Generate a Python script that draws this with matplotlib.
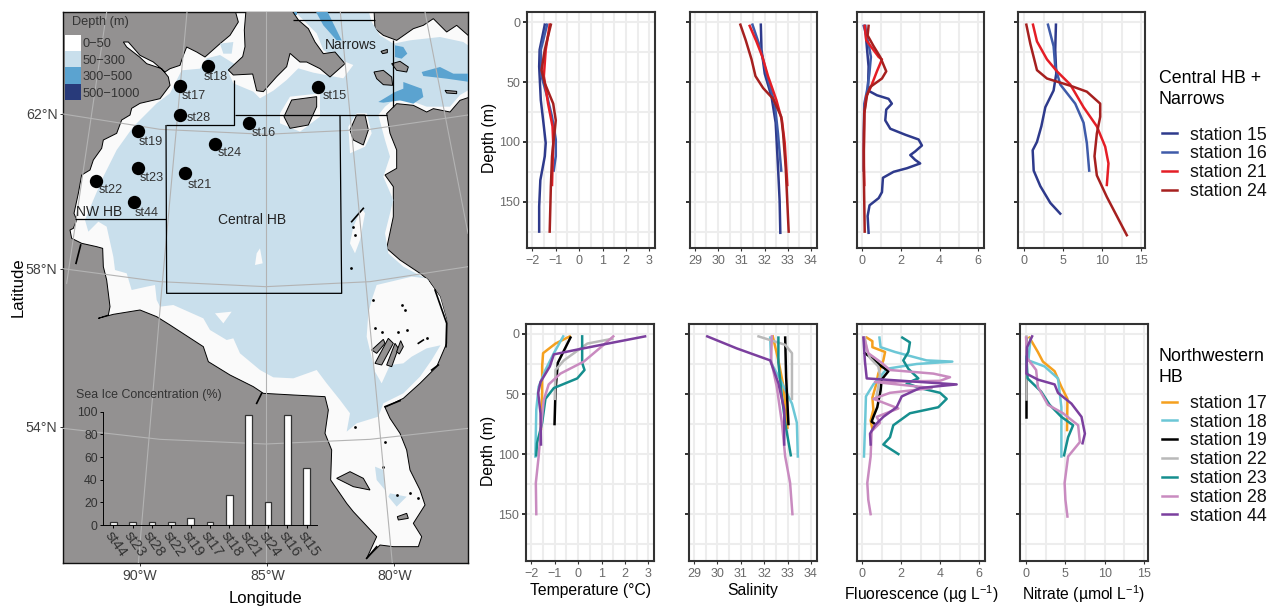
import matplotlib
matplotlib.use("Agg")
import matplotlib.pyplot as plt
from matplotlib.patches import Polygon, Rectangle
from matplotlib.lines import Line2D

plt.rcParams['font.family'] = ['Liberation Sans', 'DejaVu Sans']
plt.rcParams['mathtext.fontset'] = 'custom'
plt.rcParams['mathtext.rm'] = 'Liberation Sans'
plt.rcParams['mathtext.default'] = 'regular'

W, H = 1274, 606

# ---------- station profile data (depth in m, value) ----------
tD15 = [2, 23, 37, 65, 87, 101, 112, 132, 154, 175]
tV15 = [-1.47, -1.69, -1.71, -1.64, -1.51, -1.43, -1.47, -1.66, -1.71, -1.71]
tD16 = [2, 23, 45, 62, 79, 98, 112, 124]
tV16 = [-1.37, -1.64, -1.61, -1.37, -1.16, -1.0, -1.0, -1.09]
tD21 = [2, 23, 45, 68, 87, 101, 121, 136]
tV21 = [-1.26, -1.43, -1.51, -1.33, -1.14, -1.11, -1.14, -1.16]
tD24 = [2, 23, 40, 51, 68, 82, 93, 112, 137, 175]
tV24 = [-1.21, -1.47, -1.61, -1.47, -1.11, -1.0, -1.06, -1.16, -1.21, -1.26]

sD15 = [2, 23, 43, 62, 84, 121, 149, 176]
sV15 = [31.84, 31.87, 32.01, 32.30, 32.48, 32.58, 32.65, 32.68]
sD16 = [2, 18, 31, 45, 68, 93, 124]
sV16 = [31.48, 31.76, 31.94, 32.11, 32.44, 32.58, 32.72]
sD21 = [3, 16, 29, 45, 65, 82, 101, 136]
sV21 = [31.36, 31.65, 31.91, 32.15, 32.51, 32.75, 32.87, 32.98]
sD24 = [2, 15, 31, 45, 55, 64, 79, 93, 121, 175]
sV24 = [30.96, 31.19, 31.44, 31.61, 31.94, 32.37, 32.72, 32.80, 32.91, 33.04]

fD15 = [3, 15, 37, 57, 61, 64, 68, 73, 82, 89, 94, 98, 103, 108, 111, 115, 118, 122, 125, 130, 142, 147, 153, 162, 176]
fV15 = [.17, .22, .34, .31, .77, 1.37, 1.54, 1.25, 1.20, 1.46, 2.23, 2.92, 3.09, 2.74, 2.49, 2.74, 3.0, 2.32, 1.63, 1.08, 1.03, .86, .39, .29, .34]
fD16 = [3, 18, 29, 43, 57, 68, 93, 124]
fV16 = [.09, .34, .46, .38, .26, .12, .09, .09]
fD21 = [3, 15, 29, 31, 41, 54, 62, 76, 107, 136]
fV21 = [.14, .22, .86, 1.03, .77, .46, .22, .12, .09, .12]
fD24 = [3, 11, 20, 29, 41, 47, 54, 61, 76, 121, 175]
fV24 = [.34, .29, .60, .94, 1.25, 1.03, .43, .26, .12, .09, .14]

nD15 = [2, 23, 43, 57, 71, 87, 100, 107, 124, 137, 151, 160]
nV15 = [4.09, 4.0, 4.13, 3.79, 2.73, 2.22, 1.66, 1.11, 1.24, 2.09, 3.37, 4.64]
nD16 = [2, 20, 37, 52, 68, 84, 101, 124]
nV16 = [3.07, 3.79, 4.0, 4.64, 6.56, 7.63, 8.05, 8.35]
nD21 = [2, 16, 31, 41, 52, 71, 87, 104, 118, 136]
nV21 = [1.15, 1.66, 2.94, 4.22, 5.92, 7.63, 9.33, 10.4, 10.82, 10.61]
nD24 = [2, 18, 40, 47, 53, 58, 68, 79, 93, 112, 128, 146, 178]
nV24 = [.3, .81, 1.66, 2.94, 5.92, 8.05, 9.76, 9.76, 9.33, 9.03, 9.33, 10.61, 13.17]

tD17 = [2, 8, 16, 27, 49, 74, 79]
tV17 = [-.36, -.97, -1.5, -1.54, -1.54, -1.59, -1.59]
tD18 = [2, 16, 30, 44, 63, 102]
tV18 = [-.64, -1.04, -1.4, -1.69, -1.79, -1.83]
tD19 = [3, 24, 47, 75]
tV19 = [-.33, -.87, -.97, -1.01]
tD22 = [4, 8, 22, 30, 54]
tV22 = [1.46, .39, -.61, -.97, -1.0]
tD23 = [2, 24, 30, 37, 45, 54, 74, 91, 101]
tV23 = [.17, .17, .27, -.04, -1.04, -1.4, -1.54, -1.76, -1.79]
tD28 = [2, 10, 23, 33, 42, 55, 74, 102, 124, 150]
tV28 = [1.5, 1.03, .24, -.76, -1.26, -1.47, -1.57, -1.69, -1.81, -1.79]
tD44 = [2, 7, 13, 17, 27, 40, 49, 66, 92]
tV44 = [2.86, 1.53, -.04, -1.04, -1.21, -1.61, -1.71, -1.61, -1.59]

sD17 = [2, 22, 44, 78]
sV17 = [32.37, 32.61, 32.83, 33.0]
sD18 = [3, 24, 38, 58, 74, 102]
sV18 = [32.26, 32.3, 32.69, 33.19, 33.4, 33.44]
sD19 = [3, 36, 75]
sV19 = [32.9, 32.94, 33.04]
sD22 = [2, 9, 16, 54]
sV22 = [31.76, 32.9, 33.19, 33.19]
sD23 = [3, 24, 52, 74, 101]
sV23 = [32.61, 32.61, 32.76, 32.9, 33.14]
sD28 = [2, 22, 44, 74, 102, 124, 150]
sV28 = [32.33, 32.3, 32.54, 32.76, 32.9, 33.11, 33.21]
sD44 = [2, 12, 22, 41, 63, 92]
sV44 = [29.57, 30.83, 32.26, 32.61, 32.86, 32.86]

fD17 = [3, 6, 11, 15, 22, 33, 42, 53, 63, 72, 79]
fV17 = [.24, .53, .53, 1.18, 1.09, .83, .72, .53, .58, .44, .53]
fD18 = [3, 11, 15, 22, 23, 25, 29, 36, 42, 52, 69, 102]
fV18 = [.89, .95, 1.69, 3.3, 4.62, 2.79, 1.26, .92, .58, .2, .17, .1]
fD19 = [16, 20, 26, 31, 38, 47, 61, 69, 73, 76]
fV19 = [.15, .49, .92, 1.35, 1.0, .95, .78, .58, .49, .75]
fD22 = [3, 13, 20, 27, 34, 44, 54]
fV22 = [.15, .24, .41, .83, .92, .83, .72]
fD23 = [3, 7, 15, 22, 29, 37, 41, 45, 49, 54, 61, 66, 76, 86, 92, 100]
fV23 = [2.06, 2.45, 2.37, 2.11, 2.37, 2.88, 2.28, 2.96, 3.99, 4.33, 3.9, 2.45, 1.6, 1.43, 1.09, 1.86]
fD28 = [3, 16, 24, 30, 33, 36, 39, 40, 45, 49, 54, 62, 69, 74, 81, 102, 124, 138, 150]
fV28 = [.1, .32, 1.0, 1.43, 3.65, 4.5, 3.99, .66, 3.56, 1.43, .58, 1.86, .75, .92, .49, .44, .27, .32, .44]
fD44 = [3, 23, 37, 42, 45, 52, 61, 69, 76, 83, 92]
fV44 = [.07, .15, .24, 4.84, 2.96, 2.03, 1.77, 1.09, .66, .41, .44]

nD17 = [3, 15, 23, 31, 44, 54, 80]
nV17 = [.43, 1.5, 2.14, 3.63, 4.49, 5.26, 5.21]
nD18 = [4, 22, 27, 37, 61, 86, 102]
nV18 = [.56, .3, 2.35, 4.06, 4.49, 4.49, 4.49]
nD19 = [3, 69]
nV19 = [.04, .04]
nD22 = [2, 54]
nV22 = [.04, .04]
nD23 = [19, 37, 48, 59, 69, 76, 86, 101]
nV23 = [.04, .2, 1.92, 3.0, 4.49, 5.98, 5.34, 4.83]
nD28 = [3, 20, 30, 44, 59, 66, 76, 90, 102, 124, 138, 152]
nV28 = [0, .13, 1.28, 1.5, 2.78, 4.7, 6.62, 6.84, 5.34, 4.9, 5.0, 5.26]
nD44 = [2, 11, 33, 38, 42, 49, 58, 69, 83, 91]
nV44 = [.77, .13, .04, 1.5, 3.63, 4.06, 5.77, 7.05, 7.48, 7.18]

top_stations = ['15', '16', '21', '24']
bottom_stations = ['17', '18', '19', '22', '23', '28', '44']
colors = {'15': '#2E3A8C', '16': '#3F5BA9', '21': '#E41E26', '24': '#A6201F',
          '17': '#F5A01E', '18': '#6CC7D6', '19': '#000000', '22': '#B9B9B9',
          '23': '#158E8E', '28': '#C98BC0', '44': '#7B3F9E'}

# ---------- sea ice bars ----------
ice_stations = ['st44', 'st23', 'st28', 'st22', 'st19', 'st17', 'st18', 'st21', 'st24', 'st16', 'st15']
ice_values = [3, 3, 3, 3, 6, 3, 26.5, 97.5, 20, 97.5, 50]

# ---------- station map positions (map units) ----------
map_st_names = ['st18', 'st17', 'st28', 'st19', 'st16', 'st24', 'st23', 'st21', 'st22', 'st44', 'st15']
map_st_x = [444, 360, 359, 233, 567, 464, 235, 375, 107, 221, 774]
map_st_y = [197, 257, 344, 394, 369, 432, 503, 518, 543, 607, 261]
map_lab_x = [431, 365, 380, 235, 575, 473, 240, 383, 116, 224, 787]
map_lab_y = [231, 288, 353, 425, 398, 460, 533, 555, 569, 640, 288]


def low(pts):
    """points read on the lower half of the map"""
    return [(x, y + 870) for x, y in pts]


water = [(525, 30), (942, 30), (945, 86), (970, 106), (1010, 121), (1060, 86), (1090, 76), (1120, 56), (1160, 96),
         (1190, 76), (1230, 111), (1230, 291), (1200, 301), (1170, 336), (1120, 326), (1100, 336), (1060, 316),
         (1010, 311), (980, 341), (990, 400), (1010, 450), (1010, 505), (975, 525), (1000, 560), (1000, 650),
         (980, 745), (1020, 780), (1080, 820), (1105, 840), (1140, 890), (1160, 960), (1160, 1030), (1130, 1100),
         (1080, 1150), (1030, 1195), (975, 1222)] + low([
    (990, 385), (1020, 430), (1040, 480), (1050, 540), (1080, 600), (1095, 645), (1060, 700), (1085, 740), (1075, 770),
    (1000, 770), (960, 765), (920, 805), (950, 740), (880, 665), (860, 640), (812, 570), (815, 480), (795, 430),
    (805, 360), (795, 320), (700, 315), (610, 310), (580, 290), (510, 255), (445, 215), (430, 170), (330, 105),
    (290, 80), (240, 60), (160, 73), (115, 85), (145, 75)]) + [
    (150, 920), (145, 880), (140, 840), (130, 800), (128, 745), (110, 740), (65, 730), (35, 715), (30, 690), (40, 685),
    (50, 660), (42, 640), (55, 580), (65, 525), (90, 510), (100, 480), (125, 445), (130, 420), (170, 400), (185, 360),
    (210, 345), (215, 325), (240, 310), (300, 296), (330, 256), (325, 231), (305, 206), (260, 191), (240, 172), (200, 141),
    (190, 126), (205, 126), (240, 166), (280, 186), (315, 216), (330, 206), (360, 196), (370, 166), (380, 141),
    (410, 156), (435, 171), (480, 131), (510, 106), (535, 66)]

deep50 = [(365, 211), (420, 206), (440, 175), (480, 165), (530, 196), (505, 216), (520, 250), (580, 275), (600, 295),
          (640, 272), (680, 240), (715, 205), (760, 218), (850, 235), (880, 195), (830, 175), (790, 150), (770, 100),
          (700, 30), (925, 30), (935, 66), (960, 106), (1000, 131), (1050, 121), (1140, 111), (1210, 126), (1230, 140),
          (1230, 268), (1200, 285), (1170, 320), (1100, 320), (1060, 305), (1000, 300), (975, 320), (955, 345),
          (975, 420), (990, 470), (970, 530), (1000, 600), (975, 700), (985, 760), (1030, 800), (1105, 840),
          (1125, 900), (1145, 980), (1145, 1030), (1115, 1080), (1080, 1130), (1030, 1180), (970, 1210)] + low([
    (955, 380), (890, 400), (860, 425), (870, 370), (840, 330), (800, 280), (770, 240), (700, 265), (640, 262),
    (600, 240), (540, 190), (520, 145), (500, 150), (450, 120), (430, 85), (340, 45), (300, 50), (290, 30)]) + [
    (285, 855), (260, 860), (215, 870), (200, 820), (165, 810), (160, 770), (140, 680), (115, 665), (85, 695), (75, 660),
    (100, 600), (130, 530), (170, 450), (220, 380), (290, 310), (330, 280)]
deep50_extra = [[(480, 131), (520, 126), (515, 161), (490, 161)],
                low([(945, 530), (970, 540), (975, 600), (950, 570)]),
                low([(990, 610), (1040, 620), (1010, 650), (985, 620)])]
shallow_holes = [[(660, 340), (690, 290), (780, 280), (780, 350), (720, 395), (660, 370)],
                 [(865, 380), (890, 340), (920, 340), (935, 400), (915, 440), (870, 460)],
                 [(880, 680), (905, 625), (915, 640), (900, 720), (885, 760), (870, 730)],
                 [(590, 760), (600, 745), (608, 790), (585, 795)],
                 low([(465, 70), (515, 65), (490, 100)]),
                 [(935, 900), (950, 855), (1055, 830), (1100, 835), (1140, 890), (1160, 960), (1145, 1035), (1100, 1045),
                  (1055, 1070), (1030, 1090), (990, 1095), (965, 1150), (945, 1115), (920, 1010), (925, 940)]]
deep300 = [[(765, 30), (800, 30), (845, 121), (830, 121), (790, 76)],
           [(695, 36), (710, 36), (710, 46), (700, 46)],
           [(1005, 136), (1030, 141), (1042, 161), (1025, 176), (1005, 171)],
           [(1085, 216), (1140, 201), (1180, 221), (1230, 221), (1230, 246), (1160, 236), (1090, 228)],
           [(955, 306), (1005, 276), (1030, 266), (1030, 246), (1085, 266), (1090, 291), (1060, 311), (1020, 301),
            (970, 308)]]
islands = [[(558, 30), (553, 90), (555, 140), (548, 170), (505, 210), (520, 225), (578, 222), (590, 272), (610, 275),
            (650, 230), (680, 200), (690, 160), (720, 186), (740, 186), (780, 206), (810, 231), (855, 191), (825, 156),
            (790, 161), (765, 126), (745, 86), (715, 60), (695, 30)],
           [(695, 300), (770, 290), (770, 320), (745, 375), (690, 385), (672, 350)],
           [(890, 345), (915, 345), (925, 390), (910, 435), (880, 420), (870, 390)],
           [(942, 216), (970, 211), (995, 231), (998, 256), (970, 254), (950, 236)],
           [(995, 191), (1020, 184), (1045, 201), (1040, 216), (1010, 211)],
           [(1155, 271), (1190, 274), (1190, 281), (1160, 279)],
           [(963, 154), (982, 148), (982, 158), (968, 161)],
           [(935, 1050), (970, 1018), (975, 1030), (950, 1060)],
           [(945, 1090), (985, 1015), (1000, 1030), (965, 1095)],
           [(980, 1095), (1005, 1030), (1015, 1045), (995, 1100)],
           [(1010, 1055), (1022, 1022), (1030, 1040), (1018, 1062)]] + [low(p) for p in [
    [(830, 565), (870, 545), (910, 565), (930, 600), (880, 590)],
    [(1012, 680), (1040, 670), (1045, 685), (1015, 690)]]]
coast_marks = [[(875, 665), (910, 625)],
               [(62, 735), (48, 790)],
               [(1125, 870), (1160, 970), (1158, 1040)],
               [(1115, 1110), (1135, 1095)],
               [(975, 1220), (1020, 1202)],
               low([(590, 340), (605, 310)]),
               low([(920, 805), (950, 770)]),
               [(1075, 1030), (1090, 1020)]]
dot_x = [880, 885, 873, 940, 1025, 1035, 945, 965, 1015, 1040, 1100, 885, 975, 1010, 1050, 1075, 970]
dot_y = [680, 705, 805, 900, 915, 930, 985, 995, 995, 990, 1015, 1280, 1325, 1485, 1480, 1495, 1400]
region_lines = [[(318, 375), (522, 375), (522, 240)],
                [(318, 375), (320, 880), (845, 880), (840, 345)],
                [(525, 345), (980, 345)],
                [(45, 657), (318, 657)],
                [(700, 60), (945, 60)],
                [(1000, 120), (1000, 320)]]
meridians = [[(140, 36), (20, 850)], [(381, 36), (305, 870), (235, 1690)], [(617, 36), (617, 1690)],
             [(841, 36), (997, 1690)], [(1095, 36), (1224, 700)]]
graticule_x = [9, 300, 617, 930, 1224]
parallels_y = [[342, 388, 403, 388, 345], [806, 845, 860, 845, 800], [1285, 1318, 1332, 1318, 1285]]
lon_tick_pos = [240, 622, 1003]
lon_tick_lab = ['90°W', '85°W', '80°W']
lat_tick_pos = [342, 806, 1281]
lat_tick_lab = ['62°N', '58°N', '54°N']

depth_labels = ['0\u221250', '50\u2212300', '300\u2212500', '500\u22121000']
depth_colors = ['#FFFFFF', '#C9DFEC', '#5BA3D0', '#283A7A']

LAND = '#939191'
SHALLOW = '#FAFAFA'


def rect(x0, y0, x1, y1):
    return [x0 / W, 1 - y1 / H, (x1 - x0) / W, (y1 - y0) / H]


fig = plt.figure(figsize=(W / 100, H / 100), dpi=100)

# ---------- map ----------
ax = fig.add_axes(rect(63, 12, 468, 563))
ax.set_xlim(9, 1224)
ax.set_ylim(1689, 36)
ax.set_facecolor(LAND)
ax.add_patch(Polygon(water, closed=True, fc=SHALLOW, ec='black', lw=0.7, zorder=1))
ax.add_patch(Polygon(deep50, closed=True, fc='#C9DFEC', ec='none', zorder=2))
for p in deep50_extra:
    ax.add_patch(Polygon(p, closed=True, fc='#C9DFEC', ec='none', zorder=3))
for p in shallow_holes:
    ax.add_patch(Polygon(p, closed=True, fc=SHALLOW, ec='none', zorder=3))
for p in deep300:
    ax.add_patch(Polygon(p, closed=True, fc='#5BA3D0', ec='none', zorder=3))
for p in islands:
    ax.add_patch(Polygon(p, closed=True, fc=LAND, ec='black', lw=0.7, zorder=4))
for p in coast_marks:
    ax.plot(*zip(*p), color='black', lw=1.2, zorder=4)
ax.scatter(dot_x, dot_y, s=4, color='black', linewidths=0, zorder=4)
for m in meridians:
    ax.plot(*zip(*m), color='#B3B3B3', lw=0.8, zorder=5)
for py in parallels_y:
    ax.plot(graticule_x, py, color='#B3B3B3', lw=0.8, zorder=5)
for p in region_lines:
    ax.plot(*zip(*p), color='black', lw=0.9, zorder=6, solid_capstyle='butt')
ax.scatter(map_st_x, map_st_y, s=92, color='black', zorder=8, linewidths=0)
for n, x, y in zip(map_st_names, map_lab_x, map_lab_y):
    ax.text(x, y, n, fontsize=9.2, color='#333333', ha='left', va='center', zorder=9)
ax.text(872, 136, 'Narrows', fontsize=10, color='#222222', ha='center', va='center', zorder=9)
ax.text(575, 660, 'Central HB', fontsize=10, color='#222222', ha='center', va='center', zorder=9)
ax.text(117, 636, 'NW HB', fontsize=10, color='#222222', ha='center', va='center', zorder=9)
ax.text(35, 65, 'Depth (m)', fontsize=9.2, color='#333333', ha='left', va='center', zorder=9)
for i, (lab, c) in enumerate(zip(depth_labels, depth_colors)):
    ax.add_patch(Rectangle((15, 105 + 48.75 * i), 48, 48.75, fc=c, ec='none', zorder=9))
    ax.text(68, 133 + 49.5 * i, lab, fontsize=9.2, color='#333333', ha='left', va='center', zorder=9)
ax.text(47, 315 + 870, 'Sea Ice Concentration (%)', fontsize=8.9, color='#333333', ha='left', va='center', zorder=9)
ax.set_xticks(lon_tick_pos, lon_tick_lab)
ax.set_yticks(lat_tick_pos, lat_tick_lab)
ax.tick_params(length=2.5, width=0.7, labelsize=10.2, labelcolor='#404040', color='#333333', pad=1.5)
for s in ax.spines.values():
    s.set_linewidth(1.0)
    s.set_color('#111111')
ax.set_xlabel('Longitude', fontsize=12, labelpad=6)
ax.set_ylabel('Latitude', fontsize=12, labelpad=0)

# ---------- sea ice inset ----------
ins = fig.add_axes(rect(103.3, 411.7, 316.7, 525))
ins.patch.set_visible(False)
ins.bar(range(len(ice_values)), ice_values, width=0.34, fc='white', ec='#333333', lw=0.9)
ins.set_xlim(-0.517, 10.517)
ins.set_ylim(0, 100)
ins.set_yticks([0, 20, 40, 60, 80, 100])
ins.set_xticks(range(len(ice_stations)))
ins.set_xticklabels(ice_stations, rotation=-55, ha='left', va='top', rotation_mode='anchor', fontsize=10.5, color='#333333')
ins.tick_params(axis='y', labelsize=8.8, labelcolor='#333333', length=2.5, width=0.7, pad=1.5)
ins.tick_params(axis='x', length=2.5, width=0.7, pad=0.5)
for k in ('top', 'right'):
    ins.spines[k].set_visible(False)
for k in ('left', 'bottom'):
    ins.spines[k].set_linewidth(0.7)

# ---------- profile panels ----------
var_keys = ['t', 's', 'f', 'n']
xlims = [(-2.23, 3.24), (28.79, 34.26), (-0.257, 6.29), (-0.77, 15.5)]
xticks = [[-2, -1, 0, 1, 2, 3], [29, 30, 31, 32, 33, 34], [0, 2, 4, 6], [0, 5, 10, 15]]
xminors = [[-2 + .5 * i for i in range(11)], [29 + .5 * i for i in range(11)], list(range(7)),
           [2.5 * i for i in range(7)]]
xlabels = ['Temperature (°C)', 'Salinity', 'Fluorescence (µg L$^{-1}$)', 'Nitrate (µmol L$^{-1}$)']
top_rects = [(527, 655), (690, 817), (857, 984), (1018, 1145)]
bot_rects = [(526, 654), (689, 817), (857, 985), (1020, 1148)]
depth_ticks = [0, 50, 100, 150]
depth_grid = [25 * i for i in range(8)]


def panel(x0, x1, y0, y1, i, stations, ylim, bottom):
    a = fig.add_axes(rect(x0, y0, x1, y1))
    for st in stations:
        a.plot(globals()[var_keys[i] + 'V' + st], globals()[var_keys[i] + 'D' + st], color=colors[st], lw=1.8,
               solid_joinstyle='round', zorder=3)
    a.set_xlim(*xlims[i])
    a.set_ylim(*ylim)
    a.set_xticks(xticks[i])
    a.set_yticks(depth_ticks)
    a.set_xticks(xminors[i], minor=True)
    a.set_yticks(depth_grid, minor=True)
    a.grid(which='both', color='#EDEDED', lw=1.5, zorder=0)
    a.set_axisbelow(True)
    a.tick_params(which='minor', length=0)
    a.tick_params(axis='x', which='major', length=2.5, width=0.8, color='#333333', labelsize=9, labelcolor='#6A6A6A', pad=2.5)
    a.tick_params(axis='y', which='major', length=3, width=1.4, color='#333333', labelsize=9, labelcolor='#6A6A6A', pad=2)
    for s in a.spines.values():
        s.set_linewidth(1.5)
        s.set_color('#333333')
    if i == 0:
        a.set_ylabel('Depth (m)', fontsize=11.3, labelpad=1.5, y=0.466)
    else:
        a.tick_params(axis='y', labelleft=False)
    if bottom:
        a.set_xlabel(xlabels[i], fontsize=11.3, labelpad=2.5)
    return a


for i, (x0, x1) in enumerate(top_rects):
    panel(x0, x1, 12, 248, i, top_stations, (188.7, -8.6), False)
for i, (x0, x1) in enumerate(bot_rects):
    panel(x0, x1, 324, 561, i, bottom_stations, (189, -8.3), True)


def legend(title, stations, y, sep):
    handles = [Line2D([], [], color=colors[s], lw=1.8) for s in stations]
    labels = ['station ' + s for s in stations]
    leg = fig.legend(handles, labels, title=title, loc='upper left', bbox_to_anchor=(1159 / W, 1 - y / H),
                     frameon=False, borderpad=0, borderaxespad=0, fontsize=12.8, title_fontsize=12.8, alignment='left',
                     handlelength=0.84, handletextpad=0.73, labelspacing=0.1, labelcolor='#111111')
    leg.get_title().set_linespacing(1.33)
    leg._legend_box.sep = sep
    leg._legend_handle_box.pad = 2.2


legend('Central HB +\nNarrows', top_stations, 70, 11)
legend('Northwestern\nHB', bottom_stations, 348, 4)

fig.savefig('out.png', dpi=100)
